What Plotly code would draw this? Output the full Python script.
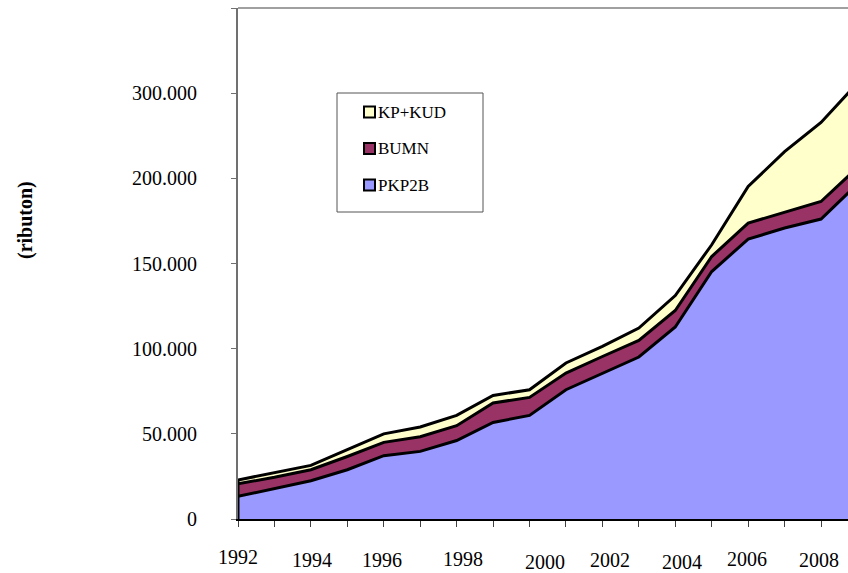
import plotly.graph_objects as go

# ---- data (tonnes x 1000 -> stored in tonnes) ----
years = list(range(1992, 2010))
pkp2b = [13300, 17800, 22500, 28900, 37200, 39700, 46100, 56700, 60800, 75900,
         85300, 95100, 112700, 145300, 164300, 170800, 176100, 196600]
bumn = [7400, 6700, 6400, 7800, 7800, 8600, 8700, 11400, 10600, 9800,
        10100, 9700, 9700, 8800, 9400, 9200, 10300, 9700]
kp_kud = [2200, 2700, 2600, 4000, 5000, 5700, 6000, 4400, 4500, 5900,
          5900, 7300, 8800, 6900, 21500, 35700, 46400, 49700]

series_names = ["PKP2B", "BUMN", "KP+KUD"]
series_values = [pkp2b, bumn, kp_kud]
series_colors = ["#9999FF", "#993366", "#FFFFCC"]

y_tick_vals = [0, 50000, 100000, 150000, 200000, 250000, 300000]
y_tick_text = ["0", "50.000", "100.000", "150.000", "200.000", "300.000", ""]
x_tick_vals = years[:-1]
x_label_years = [1992, 1994, 1996, 1998, 2000, 2002, 2004, 2006, 2008]
x_label_text = [str(y) for y in x_label_years]
y_title = "(ributon)"

# ---- layout geometry (pixels) ----
W, H = 848, 573
L, R, T, B = 238, 0, 8, 54
PW, PH = W - L - R, H - T - B

# label placement quirks of the original (pixel shifts / label centre rows)
x_label_dx = [0, 1, -2, 6, 15, 8, 7, -1, -2]
x_label_cy = [557, 560, 560, 559, 562, 560, 562, 559, 560]


def px_x(px):
    return (px - L) / PW


def px_y(py):
    return (H - B - py) / PH


FONT = "Liberation Serif, Times New Roman, serif"

fig = go.Figure()
for name, vals, col in zip(series_names, series_values, series_colors):
    fig.add_trace(go.Scatter(
        x=years, y=vals, name=name, mode="lines",
        stackgroup="one", fillcolor=col,
        line=dict(color="black", width=3),
        showlegend=False,
    ))

# black left edge of the stacked area (first category), from the data
first_total = sum(v[0] for v in series_values)
fig.add_shape(type="line", xref="x", yref="y", x0=years[0], x1=years[0],
              y0=0, y1=first_total, line=dict(color="black", width=3))

# manual legend (box, swatches, labels) built from the series lists
legend_box = dict(x0=337, x1=483, y0=93, y1=212)
fig.add_shape(type="rect", xref="paper", yref="paper",
              x0=px_x(legend_box["x0"]), x1=px_x(legend_box["x1"]),
              y0=px_y(legend_box["y0"]), y1=px_y(legend_box["y1"]),
              line=dict(color="#555555", width=1), fillcolor="white", layer="above")
row_y = [185, 148.5, 112]  # order: PKP2B bottom, KP+KUD top
for name, col, cy in zip(series_names, series_colors, row_y):
    fig.add_shape(type="rect", xref="paper", yref="paper",
                  x0=px_x(364), x1=px_x(375), y0=px_y(cy + 5.5), y1=px_y(cy - 5.5),
                  line=dict(color="black", width=2), fillcolor=col, layer="above")
    fig.add_annotation(text=name, xref="paper", yref="paper",
                       x=px_x(376), y=px_y(cy), xanchor="left", yanchor="middle",
                       showarrow=False, font=dict(family=FONT, size=17, color="black"))

# x tick labels (placed like the original)
for yr, txt, dx, cy in zip(x_label_years, x_label_text, x_label_dx, x_label_cy):
    fig.add_annotation(text=txt, xref="x", yref="paper", x=yr, y=px_y(cy),
                       xshift=dx, xanchor="center", yanchor="middle", showarrow=False,
                       font=dict(family=FONT, size=20, color="black"))

# y title
fig.add_annotation(text="<b>%s</b>" % y_title, xref="paper", yref="paper",
                   x=px_x(25), y=px_y(220), textangle=-90,
                   xanchor="center", yanchor="middle", showarrow=False,
                   font=dict(family=FONT, size=20, color="black"))

# top border of plot area
fig.add_shape(type="line", xref="paper", yref="paper", x0=0, x1=1, y0=1, y1=1,
              line=dict(color="#808080", width=1.5))

fig.update_layout(
    width=W, height=H,
    margin=dict(l=L, r=R, t=T, b=B, pad=0),
    paper_bgcolor="white", plot_bgcolor="white",
    font=dict(family=FONT, size=20, color="black"),
    showlegend=False,
    xaxis=dict(
        range=[1992, 2008.74], tickmode="array", tickvals=x_tick_vals,
        ticktext=["" for _ in x_tick_vals],
        showgrid=False, zeroline=False, showline=True, linecolor="black", linewidth=2,
        ticks="outside", ticklen=6, tickcolor="#404040", tickwidth=1,
    ),
    yaxis=dict(
        range=[0, 300000], tickmode="array", tickvals=y_tick_vals, ticktext=y_tick_text,
        showgrid=False, zeroline=False, showline=True, linecolor="#707070", linewidth=2,
        ticks="outside", ticklen=5, tickcolor="#707070", tickwidth=1,
        ticklabelstandoff=30, tickfont=dict(family=FONT, size=20, color="black"),
    ),
)

fig.write_html("out.html")
